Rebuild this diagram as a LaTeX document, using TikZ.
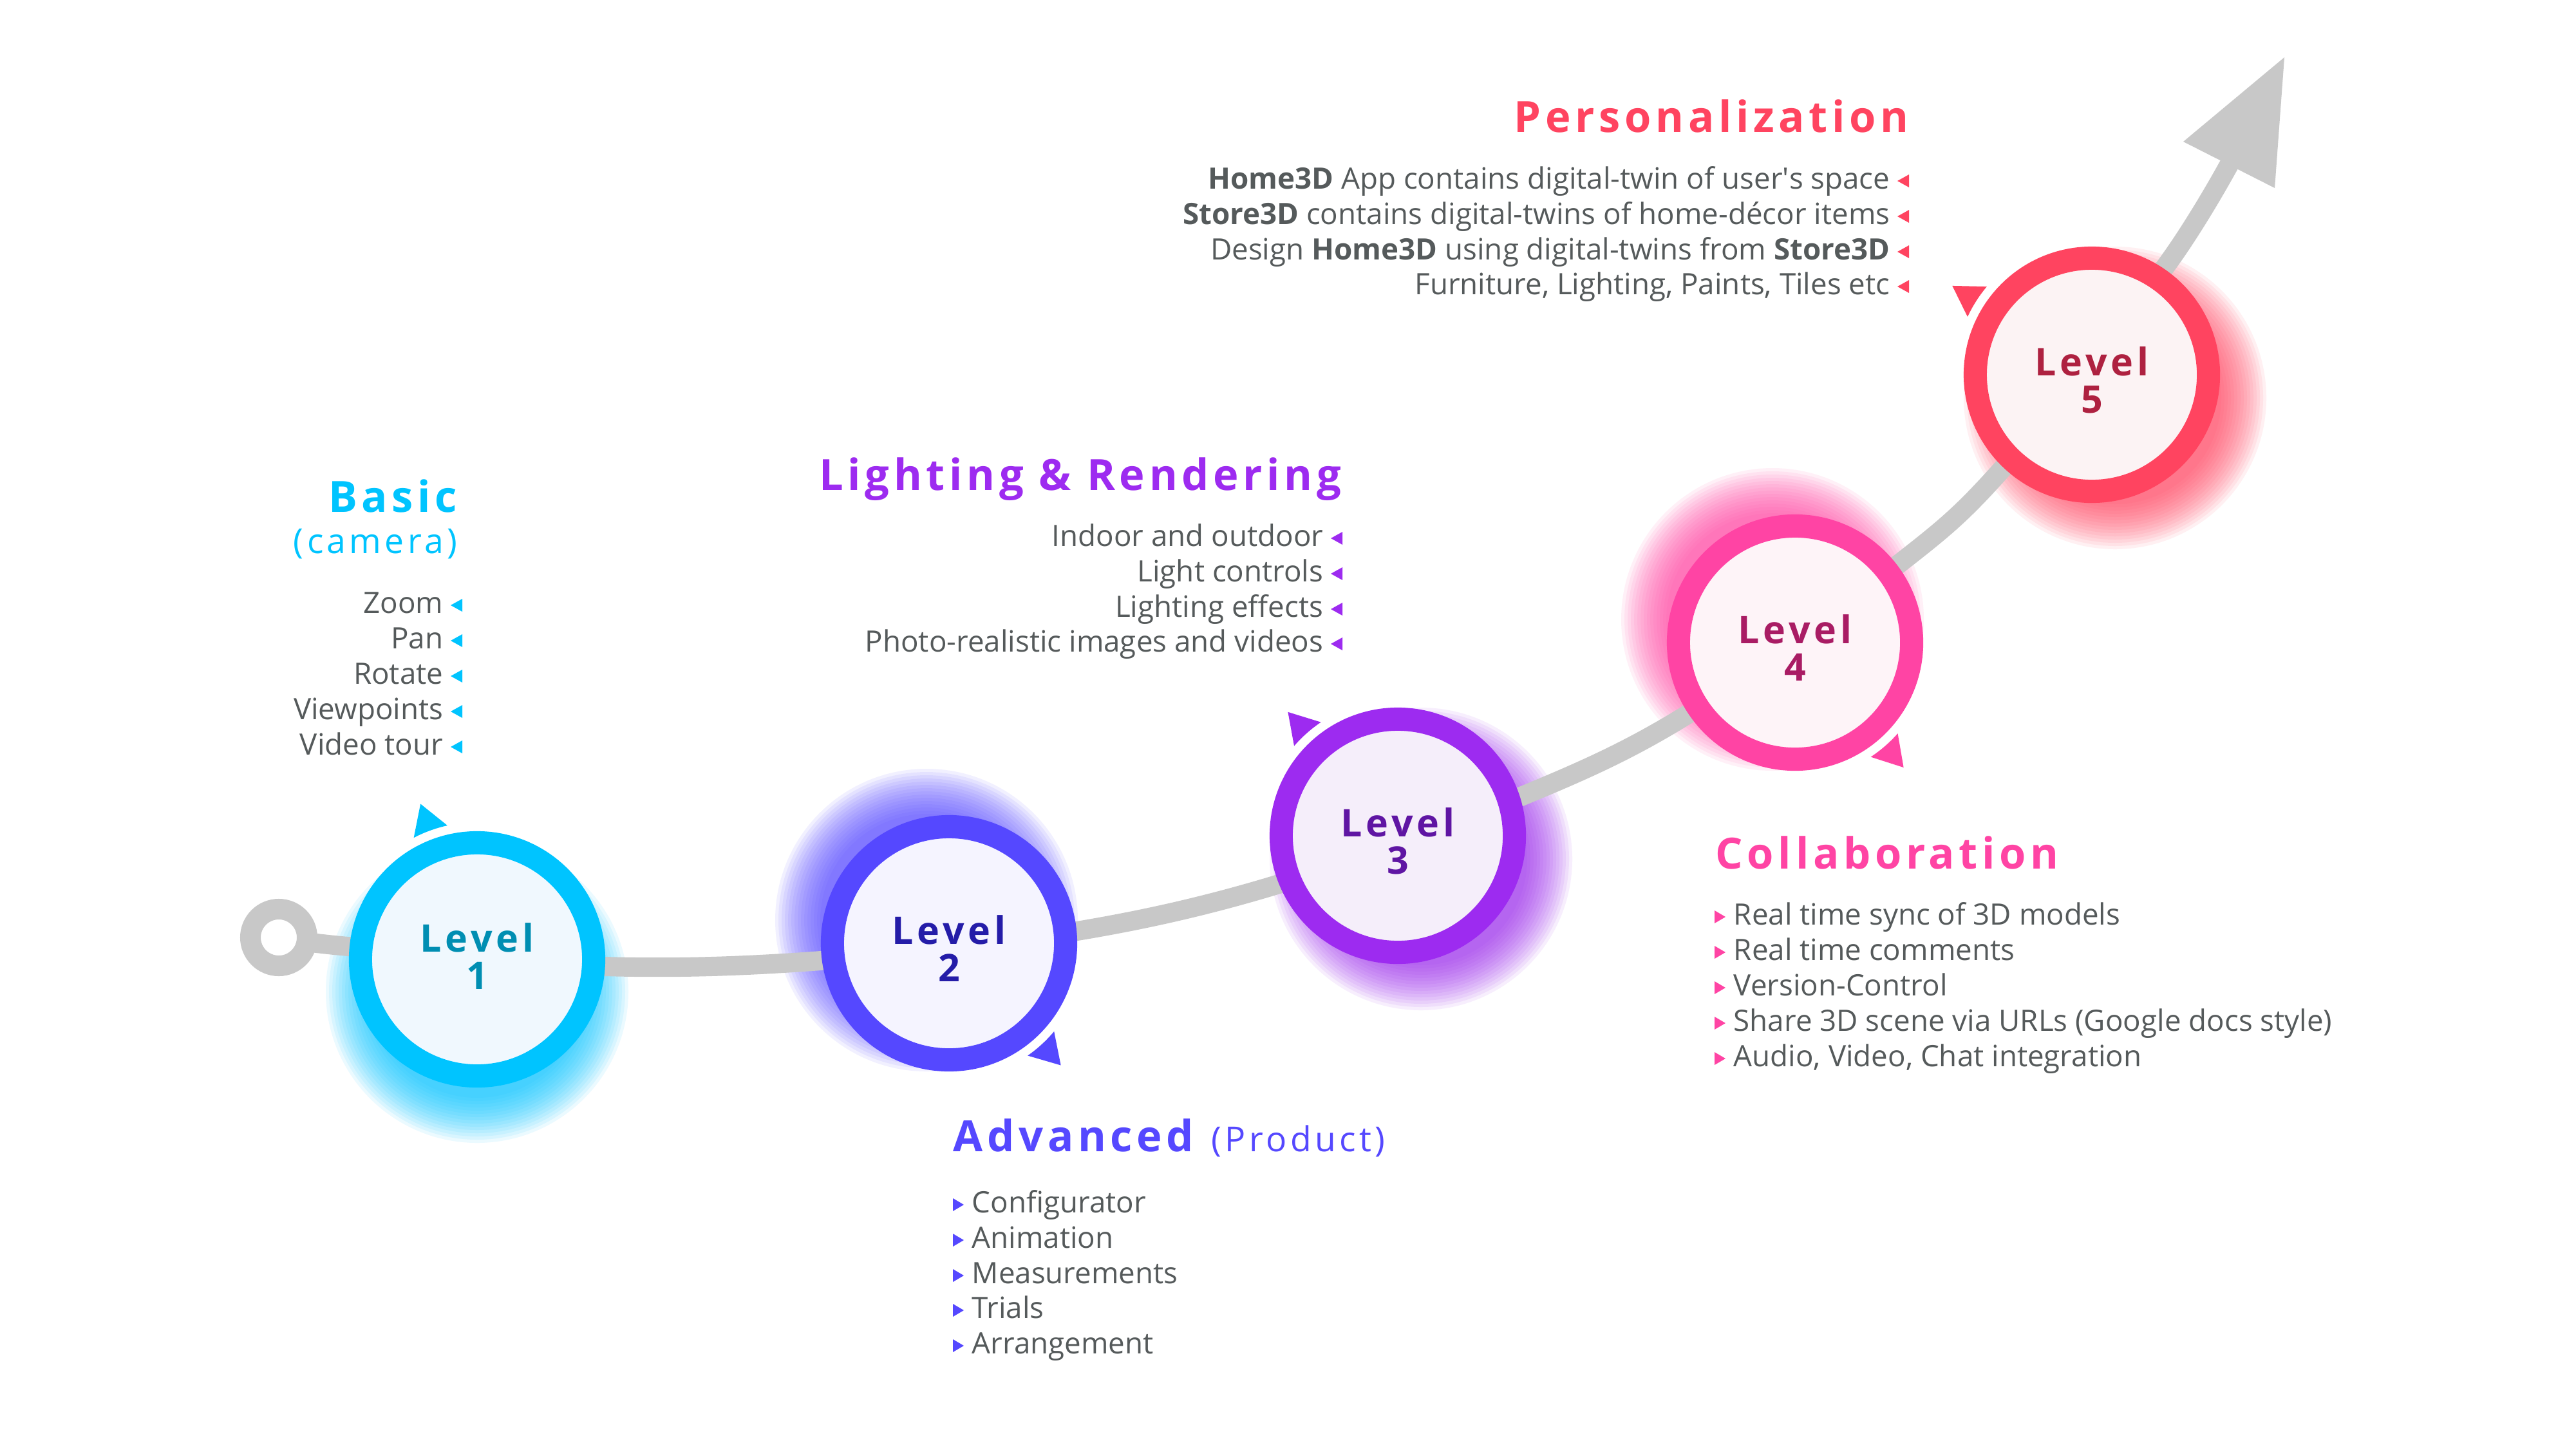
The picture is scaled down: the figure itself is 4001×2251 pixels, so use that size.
\documentclass[tikz,border=0pt]{standalone}
\usepackage{fontspec}
\setmainfont{Open Sans}
\newfontfamily\ttlfont{Open Sans}[LetterSpace=10.0]
\usetikzlibrary{calc}
\definecolor{cyanC}{HTML}{00C4FF}
\definecolor{cyanT}{HTML}{008EB2}
\definecolor{cyanI}{HTML}{F0F8FE}
\definecolor{blueC}{HTML}{5548FF}
\definecolor{blueT}{HTML}{241CA8}
\definecolor{blueI}{HTML}{F5F4FF}
\definecolor{purC}{HTML}{9D2BF0}
\definecolor{purT}{HTML}{5F15A3}
\definecolor{purI}{HTML}{F5EEFA}
\definecolor{pinkC}{HTML}{FF44A4}
\definecolor{pinkT}{HTML}{A91C64}
\definecolor{pinkI}{HTML}{FEF4F8}
\definecolor{redC}{HTML}{FF4460}
\definecolor{redT}{HTML}{AE2140}
\definecolor{redI}{HTML}{FCF3F4}
\definecolor{trackgray}{HTML}{C8C8C8}
\definecolor{txt}{HTML}{555A5B}
\newcommand\bodyf{\fontsize{13.0}{15.6}\selectfont}
\newcommand\titlef{\ttlfont\bfseries\fontsize{19}{22}\selectfont}
\newcommand\subf{\ttlfont\fontsize{15.2}{18}\selectfont}
\newcommand\lvlf{\ttlfont\bfseries\fontsize{16.8}{16.5}\selectfont}
\newcommand\glowat[3]{\foreach \k in {0,...,14}{\fill[#1, opacity=0.08] ($(#2)+#3$) circle[radius={165+5*\k}];}}
\newcommand\pointer[3]{\fill[#1] ($(#2)+({#3-7.5}:213)$) arc[start angle={#3-7.5}, end angle={#3+7.5}, radius=213] -- ($(#2)+(#3:257)$) -- cycle;}
\newcommand\ltri[2]{\fill[#1] ($(#2.base east)+(11,-12)$) -- ++(18,-10) -- ++(0,20) -- cycle;}
\newcommand\rtri[2]{\fill[#1] ($(#2.base west)+(-12,-12)$) -- ++(-17,-10) -- ++(0,20) -- cycle;}
\begin{document}
\begin{tikzpicture}[x=0.01cm,y=-0.01cm,
  body/.style={inner sep=0pt, font=\bodyf, text=txt},
  ttl/.style={inner sep=0pt, font=\titlef},
  sub/.style={inner sep=0pt, font=\subf},
  lvl/.style={circle, inner sep=0pt, minimum size=3.62cm, line width=0.36cm},
  lvltext/.style={inner sep=0pt, font=\lvlf, align=center},
  roadline/.style={draw=trackgray, line width=0.30cm}]
\fill[white] (0,0) rectangle (4001,2251);
\path[use as bounding box] (0,0) rectangle (4001,2251);
% centres
\coordinate (c1) at (741,1490);
\coordinate (c2) at (1474,1465);
\coordinate (c3) at (2171,1298);
\coordinate (c4) at (2788,998);
\coordinate (c5) at (3249,582);
\coordinate (s0) at (433,1456);
\coordinate (aend) at (3468,245);
% glows
\glowat{cyanC}{c1}{(0,50)}
\glowat{blueC}{c2}{(-35,-36)}
\glowat{purC}{c3}{(36,36)}
\glowat{pinkC}{c4}{(-35,-36)}
\glowat{redC}{c5}{(36,36)}
% track
\draw[roadline] plot[smooth, tension=0.55] coordinates {(s0) (541,1470) (940,1501) (1275,1492) (1673,1446) (1983,1374) (2360,1238) (2617,1112) (2949,876) (3111,727) (3361,417) (aend)};
\fill[trackgray] (3391,220) -- (3548,89) -- (3533,292) -- cycle;
\node[circle, draw=trackgray, line width=0.32cm, fill=white, minimum size=0.88cm, inner sep=0pt] (start) at (s0) {};
% level circles
\node[lvl, draw=cyanC, fill=cyanI] (L1) at (c1) {};
\node[lvl, draw=blueC, fill=blueI] (L2) at (c2) {};
\node[lvl, draw=purC, fill=purI] (L3) at (c3) {};
\node[lvl, draw=pinkC, fill=pinkI] (L4) at (c4) {};
\node[lvl, draw=redC, fill=redI] (L5) at (c5) {};
\node[lvltext, text=cyanT] (L1t) at ($(c1)+(0,-5)$) {Level\\1};
\node[lvltext, text=blueT] (L2t) at ($(c2)+(0,8)$) {Level\\2};
\node[lvltext, text=purT] (L3t) at ($(c3)+(0,8)$) {Level\\3};
\node[lvltext, text=pinkT] (L4t) at ($(c4)+(0,8)$) {Level\\4};
\node[lvltext, text=redT] (L5t) at ($(c5)+(0,8)$) {Level\\5};
\pointer{cyanC}{c1}{-110}
\pointer{blueC}{c2}{47.5}
\pointer{purC}{c3}{-131.6}
\pointer{pinkC}{c4}{49}
\pointer{redC}{c5}{-147.5}
% Basic
\node[ttl, text=cyanC, anchor=base east] (basicT) at (711,795) {Basic};
\node[sub, text=cyanC, anchor=base east] (basicS) at (711,859) {(camera)};
\node[body, anchor=base east] (b1) at (689,952) {Zoom};
\node[body, anchor=base east] (b2) at (689,1007) {Pan};
\node[body, anchor=base east] (b3) at (689,1062) {Rotate};
\node[body, anchor=base east] (b4) at (689,1117) {Viewpoints};
\node[body, anchor=base east] (b5) at (689,1172) {Video tour};
\foreach \n in {b1,b2,b3,b4,b5}{\ltri{cyanC}{\n}}
% Lighting
\node[ttl, text=purC, anchor=base east] (lightT) at (2084,761) {Lighting \& Rendering};
\node[body, anchor=base east] (g1) at (2056,848) {Indoor and outdoor};
\node[body, anchor=base east] (g2) at (2056,903) {Light controls};
\node[body, anchor=base east] (g3) at (2056,958) {Lighting effects};
\node[body, anchor=base east] (g4) at (2056,1012) {Photo-realistic images and videos};
\foreach \n in {g1,g2,g3,g4}{\ltri{purC}{\n}}
% Personalization
\node[ttl, text=redC, anchor=base east] (persT) at (2965,205) {Personalization};
\node[body, anchor=base east] (p1) at (2936,293) {\textbf{Home3D} App contains digital-twin of user\textquotesingle s space};
\node[body, anchor=base east] (p2) at (2936,348) {\textbf{Store3D} contains digital-twins of home-décor items};
\node[body, anchor=base east] (p3) at (2936,403) {Design \textbf{Home3D} using digital-twins from \textbf{Store3D}};
\node[body, anchor=base east] (p4) at (2936,457) {Furniture, Lighting, Paints, Tiles etc};
\foreach \n in {p1,p2,p3,p4}{\ltri{redC}{\n}}
% Collaboration
\node[ttl, text=pinkC, anchor=base west] (collT) at (2664,1349) {Collaboration};
\node[body, anchor=base west] (k1) at (2692,1436) {Real time sync of 3D models};
\node[body, anchor=base west] (k2) at (2692,1491) {Real time comments};
\node[body, anchor=base west] (k3) at (2692,1546) {Version-Control};
\node[body, anchor=base west] (k4) at (2692,1601) {Share 3D scene via URLs (Google docs style)};
\node[body, anchor=base west] (k5) at (2692,1656) {Audio, Video, Chat integration};
\foreach \n in {k1,k2,k3,k4,k5}{\rtri{pinkC}{\n}}
% Advanced
\node[ttl, text=blueC, anchor=base west] (advT) at (1480,1788) {Advanced};
\node[sub, text=blueC, anchor=base west] (advS) at (1881,1788) {(Product)};
\node[body, anchor=base west] (a1) at (1509,1883) {Configurator};
\node[body, anchor=base west] (a2) at (1509,1938) {Animation};
\node[body, anchor=base west] (a3) at (1509,1993) {Measurements};
\node[body, anchor=base west] (a4) at (1509,2047) {Trials};
\node[body, anchor=base west] (a5) at (1509,2102) {Arrangement};
\foreach \n in {a1,a2,a3,a4,a5}{\rtri{blueC}{\n}}
\end{tikzpicture}
\end{document}
